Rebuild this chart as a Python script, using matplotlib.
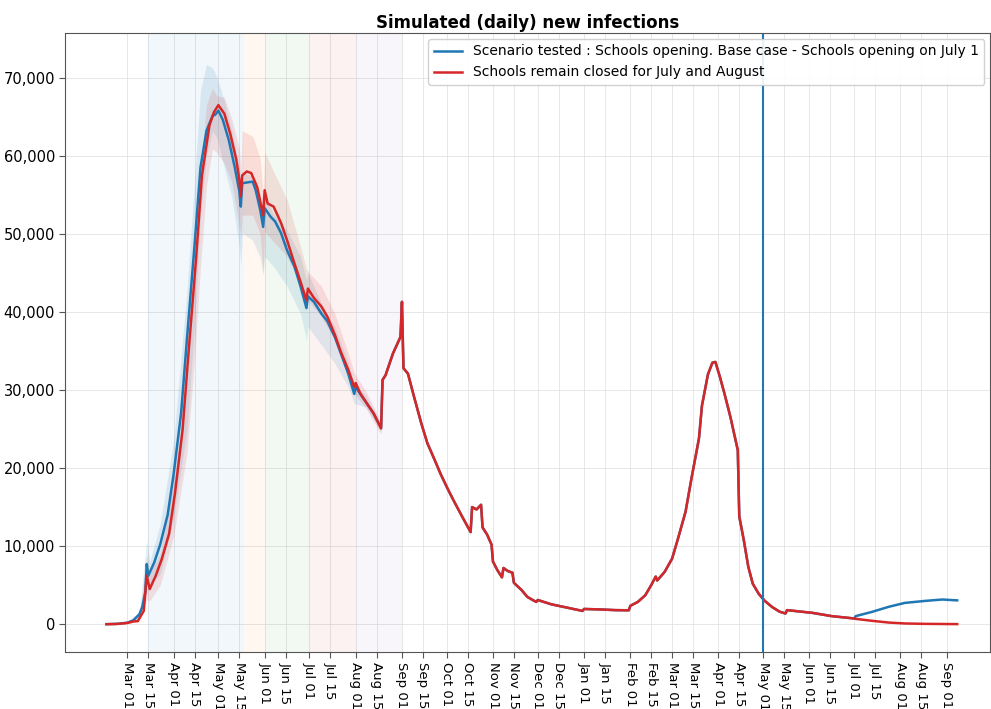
import matplotlib
matplotlib.use("Agg")
import matplotlib.pyplot as plt
import matplotlib.dates as mdates
import matplotlib.ticker as mticker
import pandas as pd

# ---------------- data ----------------
early_dates = ["2020-02-16", "2020-02-23", "2020-03-01", "2020-03-05", "2020-03-09", "2020-03-11",
               "2020-03-13", "2020-03-14", "2020-03-15", "2020-03-19", "2020-03-23", "2020-03-28",
               "2020-04-01", "2020-04-06", "2020-04-10", "2020-04-15", "2020-04-19", "2020-04-23",
               "2020-04-27", "2020-04-29", "2020-05-01", "2020-05-04", "2020-05-08", "2020-05-12",
               "2020-05-15", "2020-05-16", "2020-05-17", "2020-05-24", "2020-05-26", "2020-05-29",
               "2020-05-31", "2020-06-01", "2020-06-05", "2020-06-08", "2020-06-12", "2020-06-16",
               "2020-06-21", "2020-06-25", "2020-06-29", "2020-06-30", "2020-07-04", "2020-07-09",
               "2020-07-13", "2020-07-18", "2020-07-22", "2020-07-27", "2020-07-31", "2020-08-01",
               "2020-08-04", "2020-08-07", "2020-08-13", "2020-08-18"]
blue_early = [0, 40, 190, 500, 1250, 2200,
              4100, 7700, 6200, 7900, 10200, 14000,
              19200, 27000, 36700, 48500, 58500, 63200,
              65100, 65300, 65800, 64600, 62000, 58500,
              55500, 53500, 56500, 56700, 55600, 53100,
              50900, 53300, 52200, 51600, 50100, 47900,
              45800, 43300, 40500, 42000, 41300, 39800,
              38800, 36800, 34700, 32100, 29500, 30400,
              29500, 28700, 27000, 25100]

red_early_dates = ["2020-02-16", "2020-02-23", "2020-03-01", "2020-03-05", "2020-03-08", "2020-03-12",
                   "2020-03-14", "2020-03-16", "2020-03-20", "2020-03-24", "2020-03-29", "2020-04-02",
                   "2020-04-07", "2020-04-11", "2020-04-16", "2020-04-20", "2020-04-25", "2020-04-28",
                   "2020-05-01", "2020-05-05", "2020-05-09", "2020-05-13", "2020-05-15", "2020-05-16",
                   "2020-05-17", "2020-05-20", "2020-05-23", "2020-05-27", "2020-05-31", "2020-06-01",
                   "2020-06-03", "2020-06-07", "2020-06-12", "2020-06-16", "2020-06-21", "2020-06-25",
                   "2020-06-29", "2020-06-30", "2020-07-04", "2020-07-09", "2020-07-13", "2020-07-18",
                   "2020-07-22", "2020-07-27", "2020-07-31", "2020-08-01", "2020-08-04", "2020-08-07",
                   "2020-08-13", "2020-08-18"]
red_early = [0, 30, 150, 350, 400, 1700,
             6200, 4500, 6200, 8300, 11600, 16900,
             24900, 34800, 46700, 57500, 63900, 65600,
             66500, 65400, 62800, 59500, 57000, 54800,
             57500, 58000, 57800, 56000, 52400, 55600,
             53900, 53500, 51400, 49200, 46200, 43900,
             41500, 43000, 41800, 40700, 39400, 37100,
             34900, 32600, 30400, 30900, 29600, 28700,
             27000, 25100]

common_dates = ["2020-08-19", "2020-08-21", "2020-08-26", "2020-08-30", "2020-08-31", "2020-09-01",
                "2020-09-02", "2020-09-05", "2020-09-09", "2020-09-14", "2020-09-18", "2020-09-23",
                "2020-09-27", "2020-10-02", "2020-10-06", "2020-10-11", "2020-10-17", "2020-10-18",
                "2020-10-21", "2020-10-24", "2020-10-25", "2020-10-28", "2020-10-31", "2020-11-01",
                "2020-11-04", "2020-11-07", "2020-11-08", "2020-11-11", "2020-11-14", "2020-11-15",
                "2020-11-20", "2020-11-24", "2020-11-28", "2020-11-30", "2020-12-01", "2020-12-10",
                "2020-12-21", "2020-12-31", "2021-01-01", "2021-01-13", "2021-01-22", "2021-01-31",
                "2021-02-01", "2021-02-06", "2021-02-11", "2021-02-15", "2021-02-18", "2021-02-19",
                "2021-02-24", "2021-03-01", "2021-03-05", "2021-03-10", "2021-03-14", "2021-03-19",
                "2021-03-21", "2021-03-25", "2021-03-28", "2021-03-30", "2021-04-02", "2021-04-05",
                "2021-04-09", "2021-04-12", "2021-04-14", "2021-04-15", "2021-04-18", "2021-04-21",
                "2021-04-24", "2021-04-28", "2021-05-02", "2021-05-07", "2021-05-12", "2021-05-16",
                "2021-05-17", "2021-06-03", "2021-06-16", "2021-07-01"]
common_vals = [31300, 31900, 34700, 36400, 36800, 41300,
               32800, 32100, 29200, 25700, 23200, 21000,
               19200, 17200, 15700, 13900, 11800, 15000,
               14700, 15300, 12400, 11500, 10200, 8000,
               6900, 6000, 7200, 6800, 6600, 5300,
               4400, 3500, 3050, 2850, 3100, 2550,
               2100, 1700, 1950, 1880, 1800, 1780,
               2350, 2850, 3700, 5000, 6100, 5600,
               6700, 8400, 11000, 14400, 18700, 23800,
               28000, 32000, 33500, 33600, 31700, 29600,
               26600, 24000, 22300, 13800, 10800, 7400,
               5200, 3900, 3000, 2200, 1600, 1370,
               1800, 1450, 1030, 730]

late_dates = ["2021-07-02", "2021-07-13", "2021-07-24", "2021-08-04", "2021-08-18", "2021-08-29",
              "2021-09-03", "2021-09-08"]
blue_late = [1030, 1580, 2220, 2730, 2990, 3160, 3100, 3050]
red_late = [680, 430, 210, 90, 40, 20, 10, 10]

band_dates = ["2020-02-16", "2020-03-01", "2020-03-09", "2020-03-14", "2020-03-16", "2020-03-23",
              "2020-04-01", "2020-04-10", "2020-04-15", "2020-04-19", "2020-04-23", "2020-04-27",
              "2020-04-30", "2020-05-05", "2020-05-10", "2020-05-15", "2020-05-16", "2020-05-17",
              "2020-05-24", "2020-05-29", "2020-05-31", "2020-06-01", "2020-06-07", "2020-06-16",
              "2020-06-25", "2020-06-29", "2020-06-30", "2020-07-09", "2020-07-18", "2020-07-27",
              "2020-07-31", "2020-08-08", "2020-08-18"]
blue_hi = [0, 250, 1600, 10900, 8000, 12800, 23500, 42900, 56600, 68400, 71700, 71300,
           70100, 67000, 63200, 58700, 57000, 58000, 57400, 55000, 51800, 54800, 52500, 50500,
           47100, 44100, 45000, 41100, 38100, 33500, 30900, 29200, 25600]
blue_lo = [0, 130, 900, 4000, 5000, 6400, 13500, 24900, 38200, 52400, 59900, 63200,
           62300, 58500, 54700, 48500, 46000, 50100, 49200, 47000, 44700, 47100, 45800, 43300,
           39800, 36400, 38100, 35800, 33400, 30400, 28300, 27800, 24600]
red_hi = [0, 220, 1000, 8800, 6500, 9000, 18300, 31500, 45700, 58000, 66500, 68700,
          67700, 67500, 64700, 61000, 58500, 63200, 62500, 59700, 55200, 60500, 58000, 54400,
          48400, 45500, 45200, 43300, 39800, 34700, 32200, 29800, 25900]
red_lo = [0, 80, 300, 3100, 3000, 5000, 11200, 22000, 33900, 45700, 56100, 60900,
          60400, 59000, 56600, 51000, 49500, 52400, 52400, 50000, 45000, 50300, 49000, 47100,
          43500, 41100, 41500, 39400, 36400, 31700, 29600, 27600, 24300]

phase_starts = ["2020-03-15", "2020-05-18", "2020-06-01", "2020-07-01", "2020-08-01"]
phase_ends = ["2020-05-18", "2020-06-01", "2020-07-01", "2020-08-01", "2020-09-01"]
phase_colors = ["tab:blue", "tab:orange", "tab:green", "tab:red", "tab:purple"]
today = "2021-05-01"
tick_first, tick_last = "2020-03-01", "2021-09-01"
x_range = ("2020-01-19 12:00", "2021-09-30")

label_blue = "Scenario tested : Schools opening. Base case - Schools opening on July 1"
label_red = "Schools remain closed for July and August"
title = "Simulated (daily) new infections"

# ---------------- build series ----------------
blue_x = pd.to_datetime(early_dates + common_dates + late_dates)
blue_y = blue_early + common_vals + blue_late
red_x = pd.to_datetime(red_early_dates + common_dates + late_dates)
red_y = red_early + common_vals + red_late
bx = pd.to_datetime(band_dates)

# ---------------- plot ----------------
fig = plt.figure(figsize=(9.91, 7.09), dpi=100)
ax = fig.add_axes([0.066, 0.080, 0.933, 0.873])

for s, e, c in zip(phase_starts, phase_ends, phase_colors):
    ax.axvspan(pd.Timestamp(s), pd.Timestamp(e), color=c, alpha=0.06, lw=0)

ax.fill_between(bx, blue_lo, blue_hi, color="tab:blue", alpha=0.12, lw=0)
ax.fill_between(bx, red_lo, red_hi, color="tab:red", alpha=0.12, lw=0)

ax.plot(blue_x, blue_y, color="tab:blue", lw=1.8, label=label_blue)
ax.plot(red_x, red_y, color="tab:red", lw=1.8, label=label_red)

ax.axvline(pd.Timestamp(today), color="tab:blue", lw=1.5)

ax.set_xlim(pd.Timestamp(x_range[0]), pd.Timestamp(x_range[1]))
ax.set_ylim(-3600, 75700)
ticks = [d for d in pd.date_range(tick_first, tick_last, freq="D") if d.day in (1, 15)]
ax.set_xticks(ticks)
ax.xaxis.set_major_formatter(mdates.DateFormatter("%b %d"))
ax.yaxis.set_major_formatter(mticker.FuncFormatter(lambda v, p: f"{v:,.0f}"))
for lab in ax.get_xticklabels():
    lab.set_rotation(-90)
ax.tick_params(axis="x", labelsize=9.5, color="#555555", length=4, pad=3)
ax.tick_params(axis="y", labelsize=10.5, color="#555555", length=4)

ax.grid(True, color="#dddddd", lw=0.7, alpha=0.7)
ax.set_axisbelow(True)
for sp in ax.spines.values():
    sp.set_color("#555555")

ax.set_title(title, fontsize=12, fontweight="bold", pad=4)
leg = ax.legend(loc="upper right", fontsize=10, framealpha=0.9, edgecolor="#cccccc",
                borderaxespad=0.4)

fig.savefig("out.png", dpi=100)
